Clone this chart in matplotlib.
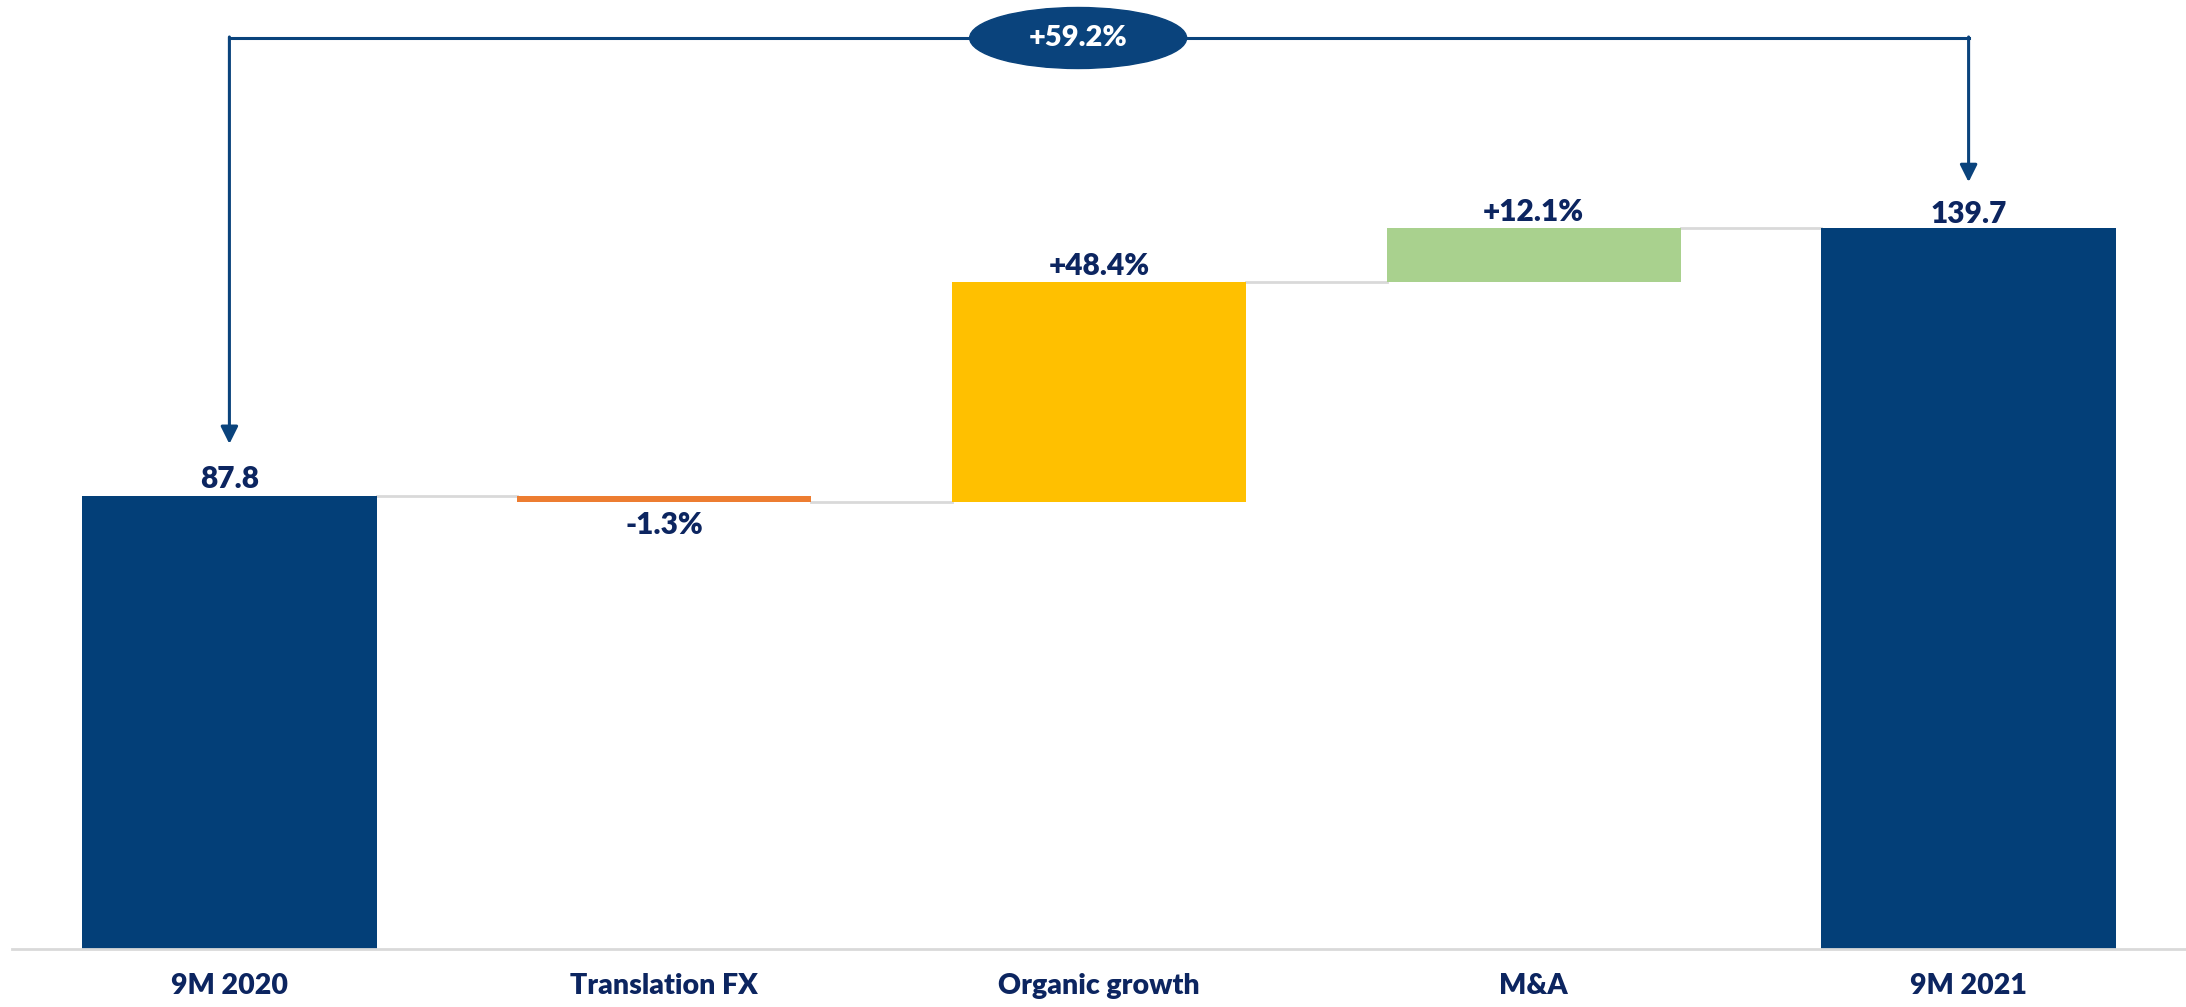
import matplotlib
matplotlib.use("Agg")
import matplotlib.pyplot as plt
from matplotlib.patches import Ellipse

# Waterfall data
categories = ["9M 2020", "Translation FX", "Organic growth", "M&A", "9M 2021"]
start_value = 87.8
end_value = 139.7
deltas = [-1.1, 42.5, 10.6]            # Translation FX, Organic growth, M&A
delta_labels = ["-1.3%", "+48.4%", "+12.1%"]
total_growth = "+59.2%"

_NAVY = "#033f78"
_TEXT = "#0c2560"
_ARROW = "#0a437c"
_GRID = "#d9d9d9"
_STEP_COLORS = ["#ed7d31", "#ffc000", "#a9d18e"]

plt.rcParams["font.family"] = ["Lato", "DejaVu Sans"]

W, H, DPI = 2186, 1007, 100
fig = plt.figure(figsize=(W / DPI, H / DPI), dpi=DPI)
ax = fig.add_axes([12 / W, 58 / H, 1 - 12 / W, 1 - 58 / H])
ax.set_xlim(-0.5, 4.5)
ax.set_ylim(0, 183.9)
px = 183.9 / (H - 58)                   # data units per pixel (vertical)

width = 0.677
label_kw = dict(ha="center", va="baseline", fontsize=21.5, fontweight="heavy", color=_TEXT)

# opening and closing totals
ax.bar([0, 4], [start_value, end_value], width=width, color=_NAVY, zorder=2)
ax.text(0, start_value + 8 * px, f"{start_value:.1f}", **label_kw)
ax.text(4, end_value + 5 * px, f"{end_value:.1f}", **label_kw)

# floating steps
level = start_value
levels = [level]
for i, (d, lab, col) in enumerate(zip(deltas, delta_labels, _STEP_COLORS), start=1):
    lo, hi = min(level, level + d), max(level, level + d)
    ax.bar(i, hi - lo, bottom=lo, width=width, color=col, zorder=2)
    if d < 0:
        ax.text(i, lo - 32 * px, lab, **label_kw)
    else:
        ax.text(i, hi + 7 * px, lab, **label_kw)
    level += d
    levels.append(level)

# grey connectors between neighbouring bars
for i in range(4):
    y = start_value if i == 0 else levels[i]
    ax.plot([i + width / 2, i + 1 - width / 2], [y, y], color=_GRID, lw=2, zorder=1)

# bracket with total growth
y_top = (949 - 38) * px
ax.plot([0, 4], [y_top, y_top], color=_ARROW, lw=2.2, zorder=3)
for x, tip in ((0, start_value + 52 * px), (4, end_value + 46 * px)):
    ax.annotate("", xy=(x, tip), xytext=(x, y_top + 0.2),
                arrowprops=dict(arrowstyle="-|>", color=_ARROW, lw=2.2,
                                mutation_scale=26, shrinkA=0, shrinkB=0))
ax.add_patch(Ellipse((1.952, y_top), 0.499, 61 * px, color=_ARROW, zorder=4))
ax.text(1.952, y_top, total_growth, ha="center", va="center", fontsize=21,
        fontweight="heavy", color="white", zorder=5)

# axis styling
for side in ("top", "right", "left"):
    ax.spines[side].set_visible(False)
ax.spines["bottom"].set_color(_GRID)
ax.spines["bottom"].set_linewidth(2)
ax.set_yticks([])
ax.set_xticks(range(5))
ax.set_xticklabels(categories, fontsize=20.5, fontweight="heavy", color=_TEXT)
ax.tick_params(axis="x", length=0, pad=17)

fig.savefig("out.png", dpi=DPI, facecolor="white")
